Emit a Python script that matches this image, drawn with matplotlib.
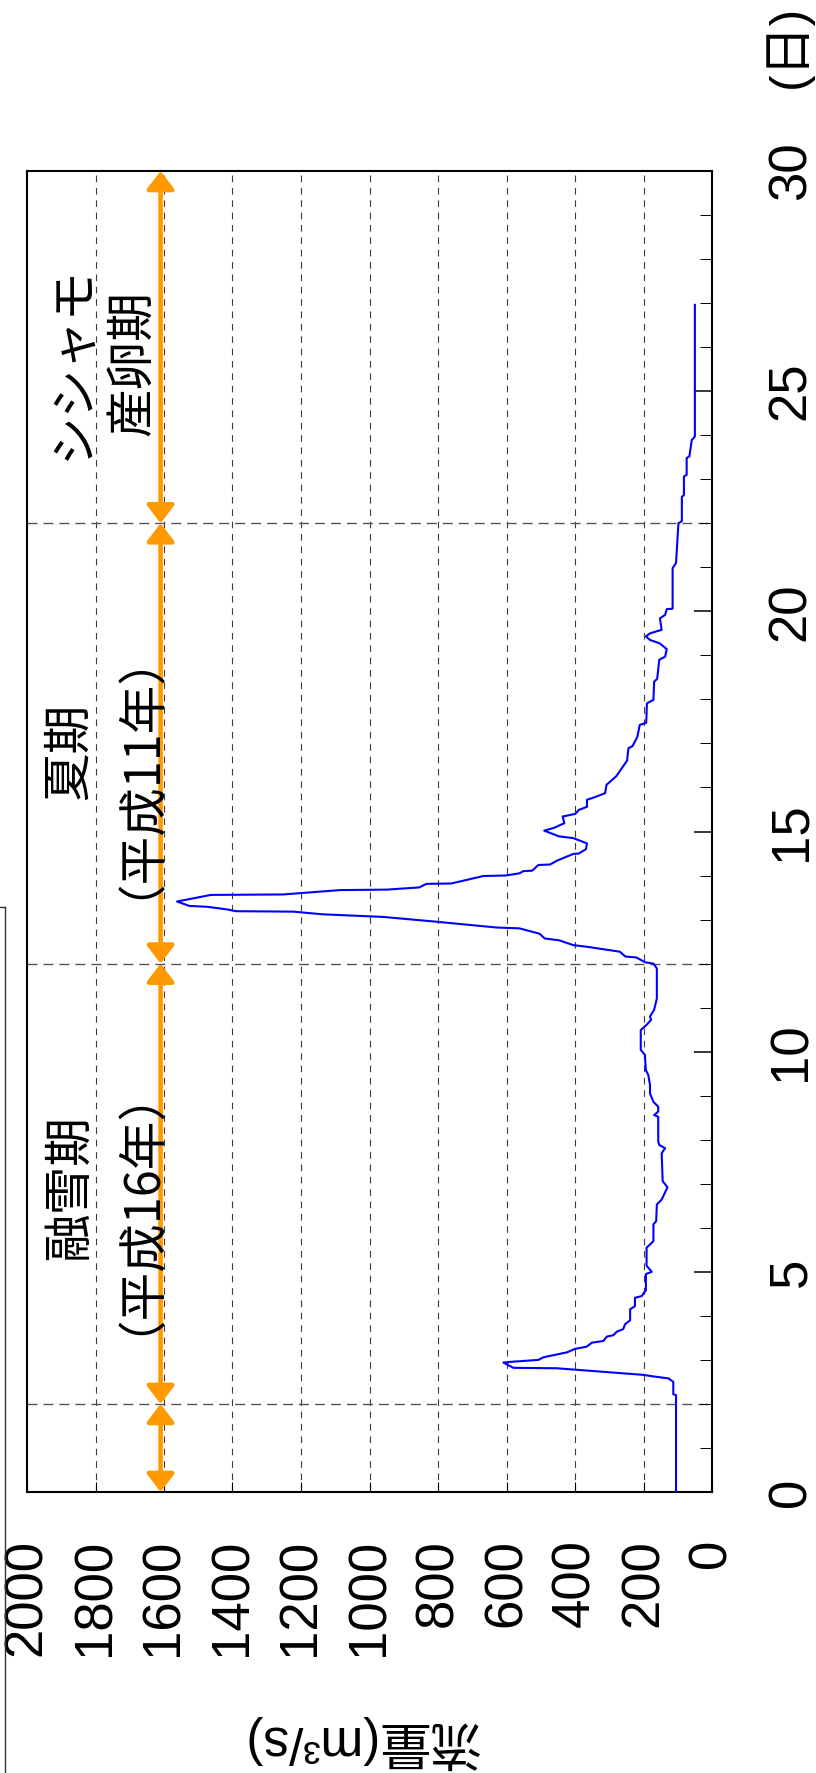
import matplotlib
matplotlib.use('Agg')
import matplotlib.pyplot as plt
from matplotlib.lines import Line2D

plt.rcParams['lines.scale_dashes'] = False

# ---- data (day, flow m3/s) ----
days = [0.0, 2.20, 2.22, 2.50, 2.58, 2.63, 2.66, 2.81, 2.82, 2.94, 2.96, 3.00, 3.06, 3.17,
        3.25, 3.30, 3.39, 3.43, 3.53, 3.56, 3.64, 3.70, 3.81, 3.90, 4.15, 4.22, 4.41, 4.45,
        4.51, 4.58, 4.95, 5.00, 5.14, 5.55, 5.62, 5.70, 6.08, 6.15, 6.53, 6.64, 6.92, 7.06,
        7.69, 7.81, 7.88, 7.96, 8.52, 8.56, 8.64, 8.75, 8.86, 9.05, 9.24, 9.47, 9.58, 9.93,
        10.04, 10.49, 10.61, 10.72, 10.80, 10.95, 11.21, 11.89, 12.00, 12.03, 12.14, 12.16,
        12.27, 12.38, 12.42, 12.53, 12.57, 12.68, 12.80, 12.82, 12.95, 13.06, 13.12, 13.18,
        13.19, 13.23, 13.29, 13.31, 13.41, 13.56, 13.57, 13.67, 13.68, 13.73, 13.81, 13.82,
        13.99, 14.00, 14.05, 14.10, 14.11, 14.24, 14.25, 14.34, 14.49, 14.50, 14.60, 14.73,
        14.85, 14.89, 15.02, 15.08, 15.19, 15.34, 15.40, 15.49, 15.56, 15.72, 15.78, 15.87,
        16.06, 16.26, 16.61, 16.89, 16.94, 17.15, 17.42, 17.47, 17.91, 17.99, 18.40, 18.47,
        18.90, 18.97, 19.14, 19.27, 19.35, 19.43, 19.50, 19.58, 19.84, 19.92, 20.05, 20.06,
        20.98, 21.10, 22.00, 22.05, 22.60, 22.64, 23.06, 23.10, 23.48, 23.52, 23.89, 23.97,
        26.96]
flows = [105, 105, 113, 113, 127, 176, 200, 453, 580, 609, 580, 507, 492, 424,
         400, 366, 351, 317, 307, 288, 278, 259, 254, 239, 239, 225, 225, 205,
         200, 193, 193, 176, 191, 191, 181, 171, 171, 163, 161, 147, 130, 144,
         147, 137, 154, 157, 157, 169, 157, 157, 171, 181, 181, 186, 193, 196,
         208, 208, 191, 178, 181, 169, 161, 161, 171, 195, 221, 253,
         269, 363, 405, 447, 488, 504, 562, 630, 803, 960, 1138, 1222,
         1389, 1416, 1473, 1526, 1562, 1463, 1253, 1085, 950, 855, 834, 761,
         667, 604, 562, 551, 525, 507, 473, 452, 405, 389, 368, 365,
         405, 447, 490, 462, 431, 436, 399, 389, 365, 365, 342, 312,
         308, 279, 248, 244, 232, 218, 211, 192, 190, 171, 169, 160,
         154, 137, 132, 152, 181, 193, 181, 147, 152, 137, 132, 115,
         115, 105, 98, 88, 88, 82, 82, 74, 74, 66, 59, 50,
         50]

flow_ticks = [0, 200, 400, 600, 800, 1000, 1200, 1400, 1600, 1800, 2000]
day_major = [0, 5, 10, 15, 20, 25, 30]
day_minor = list(range(0, 31))
period_bounds = [0, 2, 12, 22, 30]
period_lines = [2, 12, 22]
label_line1 = ['融雪期', '夏期', 'シシャモ']
label_line2 = ['（平成16年）', '（平成11年）', '産卵期']
label_days = [6.93, 16.83, 25.64]

W, H, DPI = 816, 1773, 100
fig = plt.figure(figsize=(W / DPI, H / DPI), dpi=DPI)
ax = fig.add_axes([27 / W, 1 - 1492 / H, (712 - 27) / W, (1492 - 171) / H])
ax.set_xlim(2000, 0)
ax.set_ylim(0, 30)

for f in flow_ticks[1:-1]:
    ax.axvline(f, color='#3c3c3c', lw=0.8, dashes=(4.8, 4.1), zorder=1)
for d in period_lines:
    ax.axhline(d, color='#555555', lw=1.0, dashes=(7.2, 4.3), zorder=1)

ax.plot(flows, days, color='#0000FF', lw=1.5, zorder=3)

arrow_x = 1610
for a, b in zip(period_bounds[:-1], period_bounds[1:]):
    ax.annotate('', xy=(arrow_x, b), xytext=(arrow_x, a),
                arrowprops=dict(arrowstyle='<|-|>,head_length=0.55,head_width=0.42',
                                color='#FF9900', lw=3.3, shrinkA=0, shrinkB=0,
                                mutation_scale=20),
                zorder=4)

cjk = ['Noto Sans CJK JP', 'DejaVu Sans']
label_anchor_x = [1812, 1812, 1780]
label_spacing = [0.88, 0.88, 1.27]
for l1, l2, d, xa, ls in zip(label_line1, label_line2, label_days,
                             label_anchor_x, label_spacing):
    ax.text(xa, d, l1 + '\n' + l2, rotation=90, ha='center', va='center',
            multialignment='center', linespacing=ls, fontsize=35,
            family=cjk, zorder=5)

# axes styling
for sp in ax.spines.values():
    sp.set_linewidth(1.5)

ax.set_xticks(flow_ticks)
ax.set_xticklabels([str(v) for v in flow_ticks], rotation=90, fontsize=38,
                   family='Liberation Sans')
ax.tick_params(axis='x', direction='in', length=7, width=0.8, pad=34,
               top=False, bottom=True)

ax.yaxis.tick_right()
ax.set_yticks(day_major)
ax.set_yticks(day_minor, minor=True)
ax.set_yticklabels([str(v) for v in day_major], rotation=90, va='center',
                   fontsize=38, family='Liberation Sans')
ax.tick_params(axis='y', which='major', direction='in', length=13, width=1.1,
               pad=39, left=False, right=True)
ax.tick_params(axis='y', which='minor', direction='in', length=8.3, width=0.7,
               left=False, right=True)

fig.text(789 / W, 1 - 46 / H, '(日)', rotation=90, ha='center', va='center',
         fontsize=36, family=['Liberation Sans', 'Noto Sans CJK JP'])
fig.text(361 / W, 1 - 1742 / H, '流量(m³/s)', rotation=180, ha='center', va='center',
         fontsize=37, family=['Liberation Sans', 'Noto Sans CJK JP'])

# partial frame at left edge
fig.add_artist(Line2D([4.5 / W, 4.5 / W], [0, 1 - 907 / H], transform=fig.transFigure,
                      color='#333333', lw=1.0))
fig.add_artist(Line2D([0, 4.5 / W], [1 - 907 / H, 1 - 907 / H], transform=fig.transFigure,
                      color='#333333', lw=1.0))

fig.savefig('out.png', dpi=DPI)
